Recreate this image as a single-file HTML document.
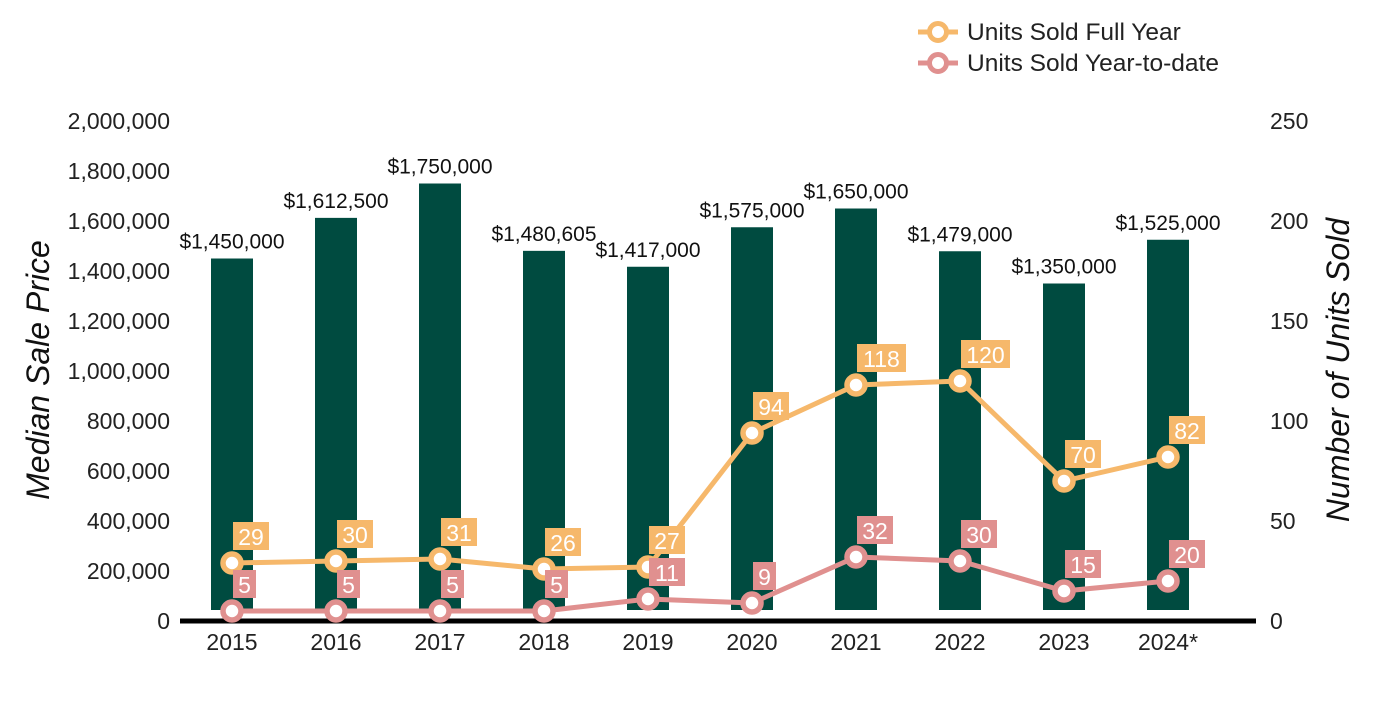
<!DOCTYPE html>
<html><head><meta charset="utf-8"><style>
body{margin:0;background:#fff;}
svg text{font-family:"Liberation Sans",Arial,sans-serif;}
</style></head><body>
<svg width="1400" height="700" viewBox="0 0 1400 700" xmlns="http://www.w3.org/2000/svg">
<g id="legend">
  <g>
    <line x1="918" y1="32" x2="958" y2="32" stroke="#f6b86b" stroke-width="5"/>
    <circle cx="938" cy="32" r="8.5" fill="#fff" stroke="#f6b86b" stroke-width="5"/>
    <text x="967" y="40" font-size="24.5" fill="#222">Units Sold Full Year</text>
  </g>
  <g>
    <line x1="918" y1="63" x2="958" y2="63" stroke="#e0908f" stroke-width="5"/>
    <circle cx="938" cy="63" r="8.5" fill="#fff" stroke="#e0908f" stroke-width="5"/>
    <text x="967" y="71" font-size="24.5" fill="#222">Units Sold Year-to-date</text>
  </g>
</g>
<text transform="translate(49,370) rotate(-90)" text-anchor="middle" font-size="32" font-style="italic" fill="#111">Median Sale Price</text>
<text transform="translate(1349,370) rotate(-90)" text-anchor="middle" font-size="32" font-style="italic" fill="#111">Number of Units Sold</text>
<g id="ticksL"></g>
<g id="ticksR"></g>
<g id="bars"></g>
<line x1="180" y1="621" x2="1256" y2="621" stroke="#000" stroke-width="5"/>
<g id="xlabels"></g>
<g id="lines"></g>
</svg>
<script>
const years=["2015","2016","2017","2018","2019","2020","2021","2022","2023","2024*"];
const prices=[1450000,1612500,1750000,1480605,1417000,1575000,1650000,1479000,1350000,1525000];
const priceLabels=["$1,450,000","$1,612,500","$1,750,000","$1,480,605","$1,417,000","$1,575,000","$1,650,000","$1,479,000","$1,350,000","$1,525,000"];
const fullYear=[29,30,31,26,27,94,118,120,70,82];
const ytd=[5,5,5,5,11,9,32,30,15,20];
const leftTicks=[0,200000,400000,600000,800000,1000000,1200000,1400000,1600000,1800000,2000000];
const rightTicks=[0,50,100,150,200,250];
const NS="http://www.w3.org/2000/svg";
const yL=v=>621-v/2000000*500;
const yR=v=>621-v/250*500;
const xC=i=>232+i*104;
function mk(tag,attrs,parent,text){const e=document.createElementNS(NS,tag);for(const k in attrs)e.setAttribute(k,attrs[k]);if(text!==undefined)e.textContent=text;parent.appendChild(e);return e;}
const fmt=v=>v.toLocaleString('en-US');
const tl=document.getElementById('ticksL');
leftTicks.forEach(v=>{const t=mk('text',{x:170,y:yL(v)+8,'text-anchor':'end','font-size':23,fill:'#222'},tl,fmt(v));

});
const tr=document.getElementById('ticksR');
rightTicks.forEach(v=>{const t=mk('text',{x:1270,y:yR(v)+8,'font-size':23,fill:'#222'},tr,String(v));

});
const bg=document.getElementById('bars');
prices.forEach((p,i)=>{const r=mk('rect',{x:xC(i)-21,y:yL(p),width:42,height:610-yL(p),fill:'#004b40'},bg);


const t=mk('text',{x:xC(i),y:yL(p)-10,'text-anchor':'middle','font-size':21,fill:'#111'},bg,priceLabels[i]);

});
const xl=document.getElementById('xlabels');
years.forEach((y,i)=>{const t=mk('text',{x:xC(i),y:650,'text-anchor':'middle','font-size':23,fill:'#222'},xl,y);

});
const lg=document.getElementById('lines');
function series(vals,color,name){
  const pts=vals.map((v,i)=>xC(i)+','+yR(v)).join(' ');
  const pl=mk('polyline',{points:pts,fill:'none',stroke:color,'stroke-width':5,'stroke-linejoin':'round'},lg);
  
  
  vals.forEach((v,i)=>{
    const c=mk('circle',{cx:xC(i),cy:yR(v),r:9,fill:'#fff',stroke:color,'stroke-width':5.5},lg);
    
    
  });
  vals.forEach((v,i)=>{
    const s=String(v);const w=s.length*13+10;
    const bx=xC(i)+1,by=yR(v)-41;
    const r=mk('rect',{x:bx,y:by,width:w,height:28,fill:color},lg);
    
    
    const t=mk('text',{x:bx+w/2,y:by+23,'text-anchor':'middle','font-size':23,fill:'#fff'},lg,s);
    
    
  });
}
series(fullYear,'#f6b86b','full-year');
series(ytd,'#e0908f','ytd');
</script>
</body></html>
